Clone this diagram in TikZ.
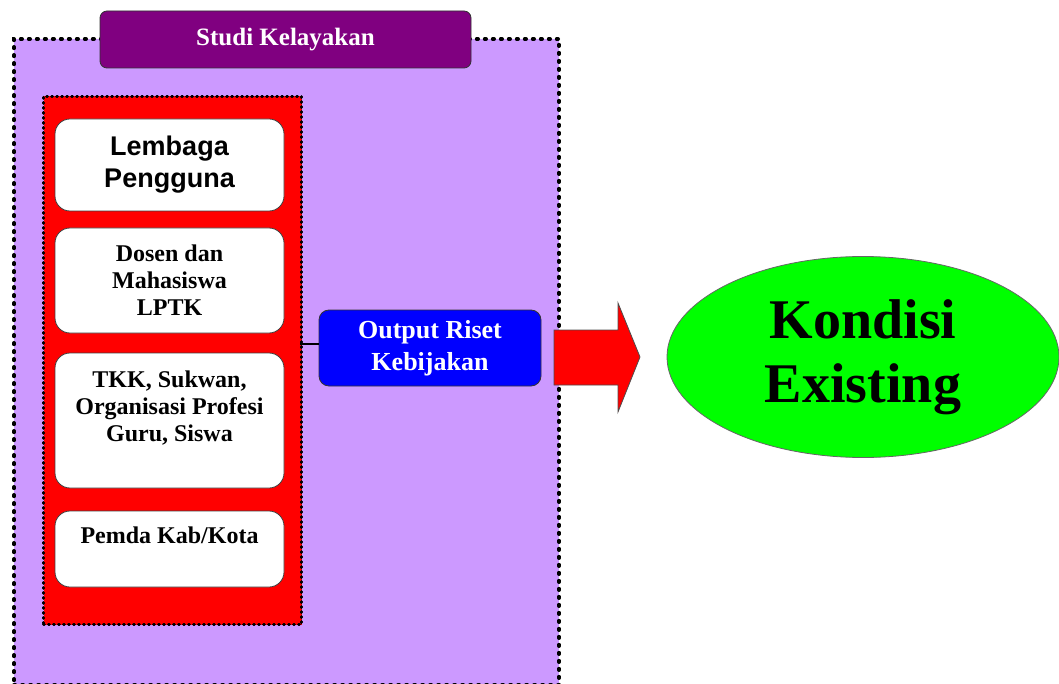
\documentclass[tikz,border=0pt]{standalone}
\usepackage{fontspec}
\setmainfont{Liberation Serif}
\newfontfamily\arialfont{Liberation Sans}
\usetikzlibrary{shapes.geometric}
\definecolor{lilac}{HTML}{CC99FF}
\definecolor{purp}{HTML}{800080}
\definecolor{bluebox}{HTML}{0000FF}
\definecolor{redfill}{HTML}{FF0000}
\definecolor{greenfill}{HTML}{00FF00}
\tikzset{
  dotborder/.style={draw=black, line width=4pt, line cap=round, dash pattern=on 1.2pt off 6.8pt},
  finedots/.style={draw=black, line width=3pt, line cap=round, dash pattern=on 0.8pt off 4.2pt},
  whitebox/.style={draw=black!75, line width=0.8pt, fill=white, rounded corners=15pt, minimum width=229pt, inner sep=0pt},
  smalltxt/.style={font=\fontsize{24}{27}\selectfont\bfseries, align=center, text=black},
}
\begin{document}
\begin{tikzpicture}[x=1pt,y=-1pt]
\useasboundingbox (0,0) rectangle (1059,684);
% outer lilac box
\node[dotborder, fill=lilac, minimum width=545pt, minimum height=646pt, inner sep=0pt, anchor=north west] (outer) at (12,37) {};
% title
\node[draw=black!80, line width=0.8pt, fill=purp, rounded corners=7pt, minimum width=371pt, minimum height=57pt, inner sep=0pt,
      text=white, font=\fontsize{25}{28}\selectfont\bfseries] (title) at (285.5,39.5) {Studi Kelayakan};
% red container
\node[finedots, fill=redfill, minimum width=258pt, minimum height=528pt, inner sep=0pt, anchor=north west] (red) at (42,95) {};
% white boxes
\node[whitebox, minimum height=92pt, font=\arialfont\fontsize{27}{32}\selectfont\bfseries, align=center] (b1) at (169.5,165) {Lembaga\\Pengguna};
\node[whitebox, minimum height=105pt, smalltxt] (b2) at (169.5,280.5) {Dosen dan\\Mahasiswa\\LPTK};
\node[whitebox, minimum height=135pt] (b3) at (169.5,420.5) {};
\node[smalltxt, anchor=north, inner sep=0pt] (t3) at ([yshift=-18pt]b3.north) {TKK, Sukwan,\\Organisasi Profesi\\Guru, Siswa};
\node[whitebox, minimum height=76pt] (b4) at (169.5,549) {};
\node[smalltxt, anchor=north, inner sep=0pt] (t4) at ([yshift=-16pt]b4.north) {Pemda Kab/Kota};
% blue output box
\node[draw=black!80, line width=0.8pt, fill=bluebox, rounded corners=10pt, minimum width=222pt, minimum height=76pt, inner sep=0pt,
      text=white, align=center, font=\fontsize{26}{32}\selectfont\bfseries] (out) at (430,348) {Output Riset\\Kebijakan};
\coordinate (lineend) at (300,344);
\draw[line width=2pt, black] (out.west |- lineend) -- (lineend);
% big red arrow
\coordinate (arrtip) at (640,357);
\draw[fill=redfill, draw=black!70, line width=0.8pt]
  (554,330) -- (618,330) -- (618,303) -- (arrtip) -- (618,412) -- (618,385) -- (554,385) -- cycle;
% green ellipse
\node[ellipse, draw=black!60, line width=0.8pt, fill=greenfill, minimum width=392pt, minimum height=201pt, inner sep=0pt,
      align=center, font=\fontsize{56}{64}\selectfont\bfseries] (kond) at (863,357) {Kondisi\\Existing};
\end{tikzpicture}
\end{document}
